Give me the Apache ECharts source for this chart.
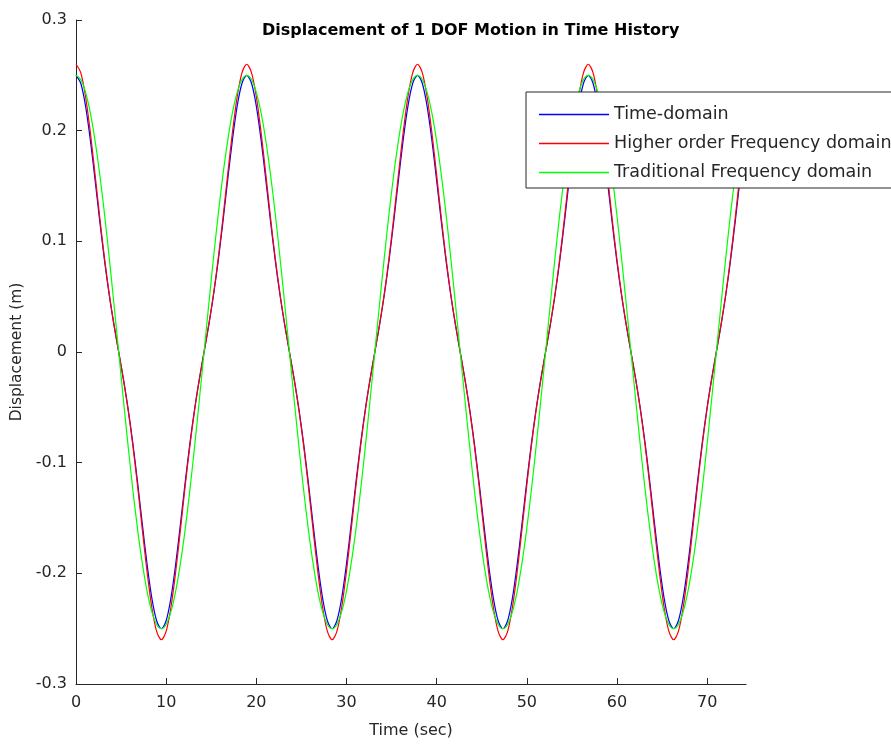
<!DOCTYPE html>
<html>
<head>
<meta charset="utf-8">
<script src="https://cdn.jsdelivr.net/npm/echarts@6/dist/echarts.min.js"></script>
<style>html,body{margin:0;padding:0;background:#fff;}#chart{width:891px;height:745px;}</style>
</head>
<body>
<div id="chart"></div>
<script>
// sample times (s)
const timeSec = [0,0.526,1.052,1.578,2.104,2.63,3.156,3.682,4.208,4.734,5.26,5.786,6.312,6.838,7.364,7.89,8.416,8.942,9.468,9.994,10.52,11.046,11.572,12.098,12.624,13.15,13.676,14.202,14.728,15.254,15.78,16.306,16.832,17.358,17.884,18.41,
18.936,19.462,19.988,20.514,21.04,21.566,22.092,22.618,23.144,23.67,24.196,24.722,25.248,25.774,26.3,26.826,27.352,27.878,28.404,28.93,29.456,29.982,30.508,31.034,31.56,32.086,32.612,33.138,33.664,34.19,34.716,35.242,35.768,36.294,36.82,37.346,37.872,
38.398,38.924,39.45,39.976,40.502,41.028,41.554,42.08,42.606,43.132,43.658,44.184,44.71,45.236,45.762,46.288,46.814,47.34,47.866,48.392,48.918,49.444,49.97,50.496,51.022,51.548,52.074,52.6,53.126,53.652,54.178,54.704,55.23,55.756,56.282,
56.808,57.334,57.86,58.386,58.912,59.438,59.964,60.49,61.016,61.542,62.068,62.594,63.12,63.646,64.172,64.698,65.224,65.75,66.276,66.802,67.328,67.854,68.38,68.906,69.432,69.958,70.484,71.01,71.536,72.062,72.588,73.114,73.64,74.166,74.692];

// Time-domain displacement (m)
const timeDomain = [0.25,0.2428,0.2226,0.1923,0.1561,0.1185,0.083,0.0517,0.0245,0,-0.0245,-0.0517,-0.083,-0.1185,-0.1561,-0.1923,-0.2226,-0.2428,-0.25,-0.2428,-0.2226,-0.1923,-0.1561,-0.1185,-0.083,-0.0517,-0.0245,0,0.0245,0.0517,0.083,0.1185,0.1561,0.1923,0.2226,0.2428,
0.25,0.2428,0.2226,0.1923,0.1561,0.1185,0.083,0.0517,0.0245,0,-0.0245,-0.0517,-0.083,-0.1185,-0.1561,-0.1923,-0.2226,-0.2428,-0.25,-0.2428,-0.2226,-0.1923,-0.1561,-0.1185,-0.083,-0.0517,-0.0245,0,0.0245,0.0517,0.083,0.1185,0.1561,0.1923,0.2226,0.2428,
0.25,0.2428,0.2226,0.1923,0.1561,0.1185,0.083,0.0517,0.0245,0,-0.0245,-0.0517,-0.083,-0.1185,-0.1561,-0.1923,-0.2226,-0.2428,-0.25,-0.2428,-0.2226,-0.1923,-0.1561,-0.1185,-0.083,-0.0517,-0.0245,0,0.0245,0.0517,0.083,0.1185,0.1561,0.1923,0.2226,0.2428,
0.25,0.2428,0.2226,0.1923,0.1561,0.1185,0.083,0.0517,0.0245,0,-0.0245,-0.0517,-0.083,-0.1185,-0.1561,-0.1923,-0.2226,-0.2428,-0.25,-0.2428,-0.2226,-0.1923,-0.1561,-0.1185,-0.083,-0.0517,-0.0245,0,0.0245,0.0517,0.083,0.1185,0.1561,0.1923,0.2226];

// Higher order frequency domain displacement (m)
const higherOrder = [0.26,0.2525,0.2311,0.1992,0.1612,0.1218,0.085,0.0527,0.0249,0,-0.0249,-0.0527,-0.085,-0.1218,-0.1612,-0.1992,-0.2311,-0.2525,-0.26,-0.2525,-0.2311,-0.1992,-0.1612,-0.1218,-0.085,-0.0527,-0.0249,0,0.0249,0.0527,0.085,0.1218,0.1612,0.1992,0.2311,0.2525,
0.26,0.2525,0.2311,0.1992,0.1612,0.1218,0.085,0.0527,0.0249,0,-0.0249,-0.0527,-0.085,-0.1218,-0.1612,-0.1992,-0.2311,-0.2525,-0.26,-0.2525,-0.2311,-0.1992,-0.1612,-0.1218,-0.085,-0.0527,-0.0249,0,0.0249,0.0527,0.085,0.1218,0.1612,0.1992,0.2311,0.2525,
0.26,0.2525,0.2311,0.1992,0.1612,0.1218,0.085,0.0527,0.0249,0,-0.0249,-0.0527,-0.085,-0.1218,-0.1612,-0.1992,-0.2311,-0.2525,-0.26,-0.2525,-0.2311,-0.1992,-0.1612,-0.1218,-0.085,-0.0527,-0.0249,0,0.0249,0.0527,0.085,0.1218,0.1612,0.1992,0.2311,0.2525,
0.26,0.2525,0.2311,0.1992,0.1612,0.1218,0.085,0.0527,0.0249,0,-0.0249,-0.0527,-0.085,-0.1218,-0.1612,-0.1992,-0.2311,-0.2525,-0.26,-0.2525,-0.2311,-0.1992,-0.1612,-0.1218,-0.085,-0.0527,-0.0249,0,0.0249,0.0527,0.085,0.1218,0.1612,0.1992,0.2311];

// Traditional frequency domain displacement (m)
const traditional = [0.25,0.2462,0.2349,0.2165,0.1915,0.1607,0.125,0.0855,0.0434,0,-0.0434,-0.0855,-0.125,-0.1607,-0.1915,-0.2165,-0.2349,-0.2462,-0.25,-0.2462,-0.2349,-0.2165,-0.1915,-0.1607,-0.125,-0.0855,-0.0434,0,0.0434,0.0855,0.125,0.1607,0.1915,0.2165,0.2349,0.2462,
0.25,0.2462,0.2349,0.2165,0.1915,0.1607,0.125,0.0855,0.0434,0,-0.0434,-0.0855,-0.125,-0.1607,-0.1915,-0.2165,-0.2349,-0.2462,-0.25,-0.2462,-0.2349,-0.2165,-0.1915,-0.1607,-0.125,-0.0855,-0.0434,0,0.0434,0.0855,0.125,0.1607,0.1915,0.2165,0.2349,0.2462,
0.25,0.2462,0.2349,0.2165,0.1915,0.1607,0.125,0.0855,0.0434,0,-0.0434,-0.0855,-0.125,-0.1607,-0.1915,-0.2165,-0.2349,-0.2462,-0.25,-0.2462,-0.2349,-0.2165,-0.1915,-0.1607,-0.125,-0.0855,-0.0434,0,0.0434,0.0855,0.125,0.1607,0.1915,0.2165,0.2349,0.2462,
0.25,0.2462,0.2349,0.2165,0.1915,0.1607,0.125,0.0855,0.0434,0,-0.0434,-0.0855,-0.125,-0.1607,-0.1915,-0.2165,-0.2349,-0.2462,-0.25,-0.2462,-0.2349,-0.2165,-0.1915,-0.1607,-0.125,-0.0855,-0.0434,0,0.0434,0.0855,0.125,0.1607,0.1915,0.2165,0.2349];

const seriesNames = ['Time-domain', 'Higher order Frequency domain', 'Traditional Frequency domain'];
const xTicks = [0, 10, 20, 30, 40, 50, 60, 70];
const yTicks = [-0.3, -0.2, -0.1, 0, 0.1, 0.2, 0.3];
const titleText = 'Displacement of 1 DOF Motion in Time History';

function pairs(vals) { return timeSec.map((t, i) => [t, vals[i]]); }

const font = 'DejaVu Sans';
const axisColor = '#262626';
const chart = echarts.init(document.getElementById('chart'), null, { renderer: 'canvas' });
chart.setOption({
  backgroundColor: '#ffffff',
  animation: false,
  title: {
    text: titleText,
    left: 262, top: 23, padding: 0,
    textStyle: { fontFamily: font, fontSize: 16, fontWeight: 'bold', color: '#000' }
  },
  legend: {
    orient: 'vertical',
    left: 526, top: 92,
    padding: [13, 60, 6, 13],
    icon: 'rect',
    itemWidth: 70, itemHeight: 1.6, itemGap: 10,
    backgroundColor: '#ffffff',
    borderColor: axisColor, borderWidth: 1, borderRadius: 0,
    textStyle: { fontFamily: font, fontSize: 17.5, color: axisColor, lineHeight: 19 },
    data: seriesNames
  },
  grid: { left: 76, top: 20, width: 670, height: 664, containLabel: false },
  xAxis: {
    type: 'value', min: 0, max: 74.3, interval: 10,
    name: 'Time (sec)', nameLocation: 'middle', nameGap: 39,
    nameTextStyle: { fontFamily: font, fontSize: 16, color: axisColor },
    axisLine: { onZero: false, lineStyle: { color: axisColor, width: 1 } },
    axisTick: { inside: true, length: 6, customValues: xTicks, lineStyle: { color: axisColor } },
    axisLabel: { customValues: xTicks, fontFamily: font, fontSize: 16, color: axisColor, margin: 11 },
    splitLine: { show: false }
  },
  yAxis: {
    type: 'value', min: -0.3, max: 0.3, interval: 0.1,
    name: 'Displacement (m)', nameLocation: 'middle', nameGap: 50, nameRotate: 90,
    nameTextStyle: { fontFamily: font, fontSize: 15.5, color: axisColor },
    axisLine: { show: true, onZero: false, lineStyle: { color: axisColor, width: 1 } },
    axisTick: { show: true, inside: true, length: 6, customValues: yTicks, lineStyle: { color: axisColor } },
    axisLabel: { customValues: yTicks, fontFamily: font, fontSize: 16, color: axisColor, margin: 9,
      formatter: v => (Math.abs(v) < 1e-9 ? '0' : String(Math.round(v * 10) / 10)) },
    splitLine: { show: false }
  },
  series: [
    { name: seriesNames[0], type: 'line', data: pairs(timeDomain), symbol: 'none', smooth: 0.3,
      lineStyle: { color: '#0000ff', width: 1.2 }, itemStyle: { color: '#0000ff' } },
    { name: seriesNames[1], type: 'line', data: pairs(higherOrder), symbol: 'none', smooth: 0.3,
      lineStyle: { color: '#ff0000', width: 1.2 }, itemStyle: { color: '#ff0000' } },
    { name: seriesNames[2], type: 'line', data: pairs(traditional), symbol: 'none', smooth: 0.3,
      lineStyle: { color: '#00ff00', width: 1.2 }, itemStyle: { color: '#00ff00' } }
  ]
});
</script>
</body>
</html>
